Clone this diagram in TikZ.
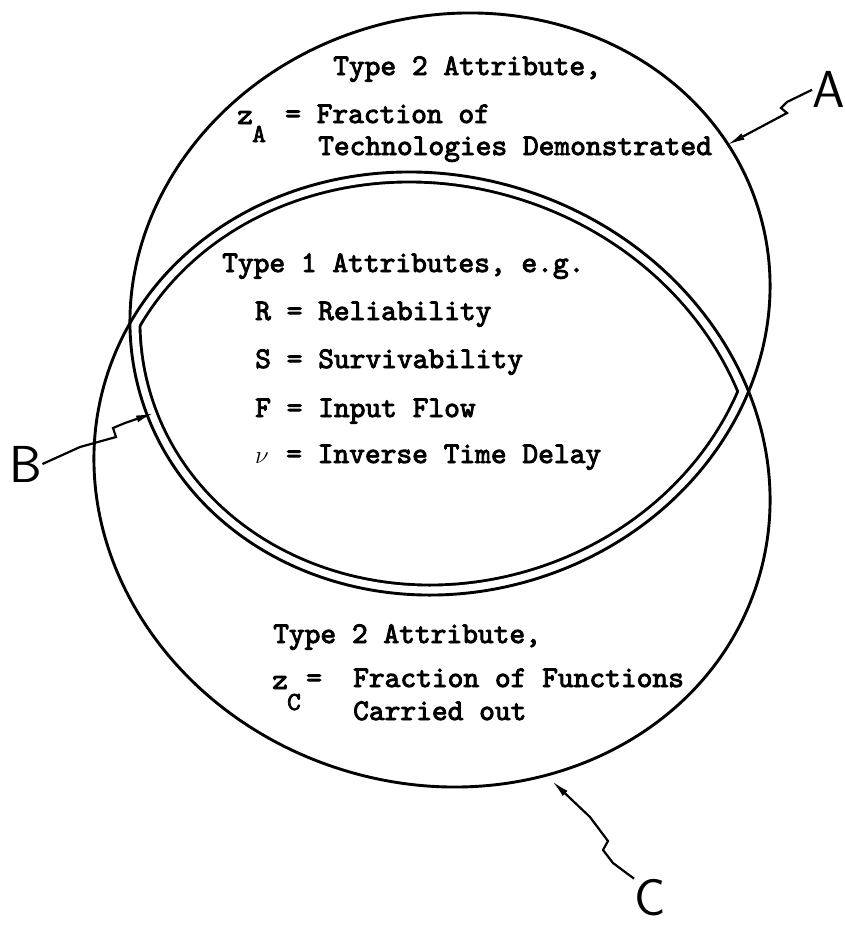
\documentclass[tikz,border=0pt]{standalone}
\usepackage{fontspec}
\newfontfamily\typewriter{lmmono10-regular.otf}[FakeBold=3]
\usetikzlibrary{arrows.meta}
\begin{document}
\begin{tikzpicture}[x=1pt,y=-1pt,
  outline/.style={line width=2.9pt},
  tiltA/.style={rotate around={16.6:(450,304)}},
  tiltC/.style={rotate around={-17.7:(432,479.5)}},
  txt/.style={font=\fontsize{30}{30}\selectfont\typewriter, inner sep=0pt, anchor=base west},
  subtxt/.style={font=\fontsize{26}{26}\selectfont\typewriter, inner sep=0pt, anchor=base west},
  letter/.style={font=\fontsize{52}{52}\selectfont\sffamily, inner sep=0pt},
  pointer/.style={line width=2.2pt, -{Latex[length=18pt,width=7pt]}}]
\useasboundingbox (0,0) rectangle (845,926);

% the two attribute sets
\def\setA{(450,304) ellipse [x radius=322.7, y radius=288]}
\def\setC{(432,479.5) ellipse [x radius=341.3, y radius=303.8]}

% inner rim of the overlap B: a band along both boundaries, hollowed out
\begin{scope}
  \clip[tiltA] \setA;
  \clip[tiltC] \setC;
  \draw[tiltA, line width=22.9pt] \setA;
  \draw[tiltC, line width=22.9pt] \setC;
  \draw[tiltA, white, line width=17.1pt] \setA;
  \draw[tiltC, white, line width=17.1pt] \setC;
\end{scope}

\draw[outline, tiltA] \setA;
\draw[outline, tiltC] \setC;

% set A
\node[txt] (a1) at (333,75) {Type 2 Attribute,};
\node[txt] (a2z) at (237,124) {z};
\node[subtxt] (a2s) at (252,142) {A};
\node[txt] (a2) at (285,123) {= Fraction of};
\node[txt] (a3) at (318,155) {Technologies Demonstrated};

% overlap B
\node[txt] (b1) at (222,272) {Type 1 Attributes, e.g.};
\node[txt] (b2) at (255,320) {R = Reliability};
\node[txt] (b3) at (255,368) {S = Survivability};
\node[txt] (b4) at (255,417) {F = Input Flow};
\node[txt] (b5n) at (255,463) {$\nu$};
\node[txt] (b5) at (286,463) {= Inverse Time Delay};

% set C
\node[txt] (c1) at (273,643) {Type 2 Attribute,};
\node[txt] (c2z) at (272,689) {z};
\node[subtxt] (c2s) at (287,710) {C};
\node[txt] (c2e) at (306,687) {=};
\node[txt] (c2) at (353,687) {Fraction of Functions};
\node[txt] (c3) at (353,720) {Carried out};

% labels and their pointers
\node[letter, anchor=south east] (labA) at (845,108) {A};
\node[letter] (labB) at (26,464) {B};
\node[letter, anchor=base west] (labC) at (634,915) {C};

\coordinate (tipA) at (727,145);
\coordinate (tipB) at (154,413);
\coordinate (tipC) at (552,781);

\draw[pointer] (labA.west) -- (787,102) -- (781,108) -- (787,113) -- (tipA);
\draw[pointer] (labB.east) -- (80,447) -- (116,437) -- (113,428) -- (125,423) -- (tipB);
\draw[pointer] (labC.north west) -- (613,863) -- (603,850) -- (608,841) -- (590,817) -- (tipC);
\end{tikzpicture}
\end{document}
